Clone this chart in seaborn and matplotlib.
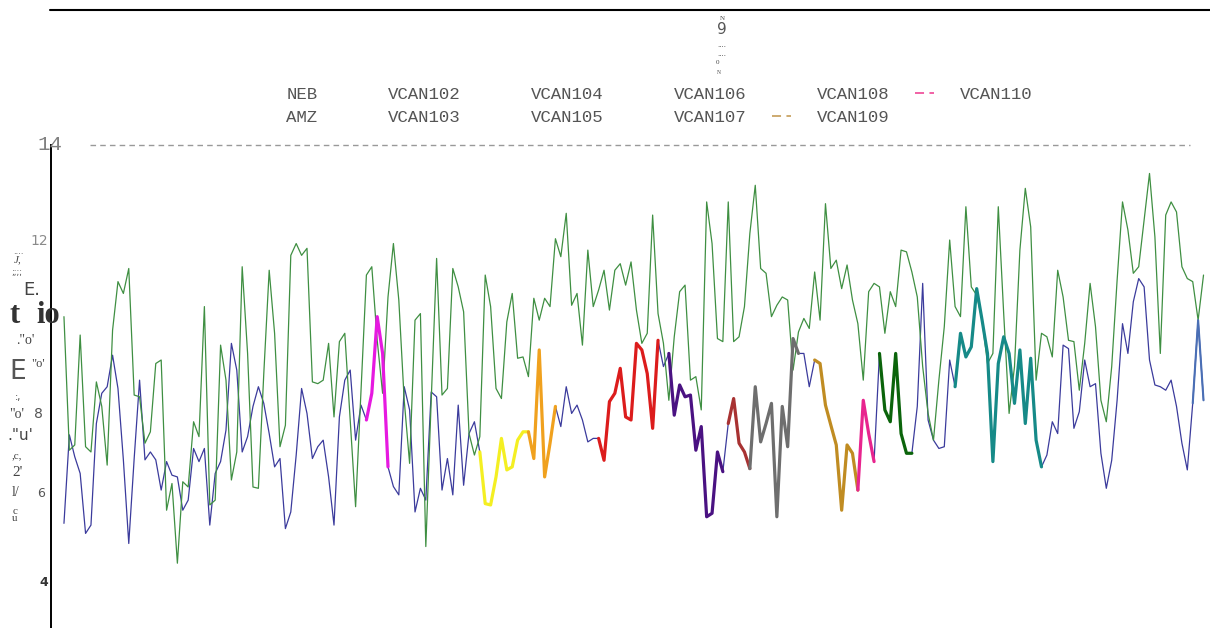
import matplotlib
matplotlib.use("Agg")
from matplotlib import pyplot as plt
from matplotlib.lines import Line2D
from matplotlib.font_manager import FontProperties
import seaborn as sns

# %%
# series (one value per month)
neb = [10.08, 7.03, 7.15, 9.66, 7.11, 6.99, 8.59, 8.03, 6.69, 9.77,
       10.88, 10.61, 11.18, 8.29, 8.25, 7.19, 7.45, 9.01, 9.09, 5.66,
       6.27, 4.45, 6.31, 6.19, 7.68, 7.34, 10.31, 5.78, 5.89, 9.43,
       8.63, 6.35, 6.99, 11.22, 9.24, 6.19, 6.16, 8.78, 11.14, 9.70,
       7.11, 7.60, 11.48, 11.75, 11.48, 11.64, 8.59, 8.55, 8.63, 9.47,
       7.79, 9.51, 9.70,
       7.72, 5.74, 8.40, 11.03, 11.22, 9.54, 8.33, 10.53, 11.75, 10.46,
       8.17, 6.73, 10.00, 10.15, 4.83, 8.17, 11.41, 8.29, 8.44, 11.18,
       10.76, 10.19, 7.41, 6.92, 7.34, 11.03, 10.31, 8.44, 8.21, 9.96,
       10.61, 9.13, 9.16, 8.71, 10.50, 10.00, 10.50, 10.31, 11.86, 11.45,
       12.44, 10.34, 10.61, 9.43, 11.60, 10.31, 10.69, 11.14, 10.23, 11.14,
       11.29, 10.80, 11.33, 10.23,
       9.47, 9.70, 12.40, 10.15, 9.47, 8.17, 9.62, 10.65, 10.80, 8.63,
       8.71, 7.95, 12.70, 11.75, 9.58, 9.51, 12.70, 9.51, 9.62, 10.31,
       11.98, 13.08, 11.18, 11.07, 10.08, 10.34, 10.53, 10.46, 8.86, 9.73,
       10.04, 9.81, 11.10, 10.00, 12.66, 11.18, 11.37, 10.72, 11.26, 10.46,
       9.92, 8.63, 10.65, 10.84, 10.76, 9.70, 10.65, 10.31, 11.60, 11.56,
       11.10, 10.53, 8.94, 7.87,
       7.26, 8.63, 9.85, 11.83, 10.31, 10.08, 12.59, 10.76, 10.57, 10.00,
       9.01, 9.24, 12.59, 10.15, 7.87, 8.94, 11.60, 13.01, 12.13, 8.63,
       9.70, 9.62, 9.16, 11.14, 10.53, 9.54, 9.51, 8.40, 9.47, 10.84,
       9.85, 8.17, 7.68, 8.94, 10.91, 12.70, 12.06, 11.07, 11.22, 12.28,
       13.35, 11.90, 9.24, 12.40, 12.70, 12.47, 11.22, 10.95, 10.88, 10.00,
       11.03]

amz = [5.36, 7.38, 6.88, 6.50, 5.13, 5.32, 7.64, 8.33, 8.48, 9.20,
       8.44, 6.81, 4.90, 6.84, 8.63, 6.81, 6.99, 6.81, 6.12, 6.77,
       6.46, 6.42, 5.66, 5.89, 7.07, 6.77, 7.07, 5.32, 6.50, 6.77,
       7.49, 9.47, 8.86, 6.99, 7.34, 8.03, 8.48, 8.10, 7.41, 6.65,
       6.84, 5.24, 5.62, 6.92, 8.44, 7.87, 6.84, 7.11, 7.26, 6.42,
       5.32, 7.79, 8.63,
       8.86, 7.26, 8.06, 7.72, 8.33, 10.08, 9.24, 6.65, 6.20, 6.01,
       8.48, 7.95, 5.62, 6.16, 5.89, 8.36, 8.25, 6.12, 6.84, 6.01,
       8.06, 6.23, 7.41, 7.68, 6.99, 5.81, 5.78, 6.42, 7.30, 6.58,
       6.65, 7.26, 7.45, 7.45, 6.84, 9.32, 6.42, 7.19, 8.03, 7.57,
       8.48, 7.87, 8.06, 7.72, 7.22, 7.30, 7.30, 6.80, 8.14, 8.33,
       8.90, 7.79, 7.72, 9.47,
       9.32, 8.78, 7.53, 9.54, 8.94, 9.24, 7.83, 8.52, 8.25, 8.29,
       7.03, 7.57, 5.51, 5.59, 6.99, 6.54, 7.64, 8.21, 7.19, 6.99,
       6.61, 8.48, 7.22, 7.64, 8.10, 5.51, 8.03, 7.11, 9.58, 9.24,
       9.24, 8.48, 9.09, 9.01, 8.06, 7.60, 7.15, 5.66, 7.15, 6.96,
       6.12, 8.17, 7.41, 6.77, 9.24, 7.95, 7.68, 9.24, 7.41, 6.96,
       6.96, 8.03, 10.84, 7.72,
       7.26, 7.07, 7.11, 9.09, 8.48, 9.70, 9.16, 9.39, 10.72, 10.00,
       9.24, 6.77, 9.01, 9.62, 9.24, 8.10, 9.32, 7.64, 9.13, 7.26,
       6.65, 6.92, 7.68, 7.41, 9.43, 9.35, 7.53, 7.91, 9.09, 8.48,
       8.55, 6.96, 6.16, 6.80, 8.17, 9.92, 9.24, 10.42, 10.95, 10.76,
       9.09, 8.52, 8.48, 8.40, 8.63, 8.03, 7.19, 6.58, 8.10, 10.00,
       8.17]

months = list(range(len(neb)))

# highlighted stretches on the AMZ curve (first and last month index)
seg_start = [56, 77, 86, 99, 112, 123, 127, 139, 147, 151, 165, 209]
seg_end = [60, 86, 91, 110, 122, 127, 136, 147, 150, 157, 181, 211]
seg_colors = ['#e619e0', '#f4ef22', '#f0a11e', '#dc1c1c', '#4a1282', '#a83232',
              '#6e6e6e', '#c08c22', '#e8248e', '#0b640b', '#168a88', '#4a6fb5']
seg_widths = [2.3] * 11 + [1.5]

legend_labels = ['NEB', 'AMZ', 'VCAN102', 'VCAN103', 'VCAN104', 'VCAN105',
                 'VCAN106', 'VCAN107', 'VCAN108', 'VCAN109', 'VCAN110']
legend_colors = ['none'] * 9 + ['#c9a464', '#f0559e']

# %%
sns.set_style('white')
plt.rcParams['font.family'] = ['DejaVu Sans']

W, H = 1210, 628
fig = plt.figure(figsize=(W / 100, H / 100), dpi=100)
ax = fig.add_axes([51 / W, 0, 1 - 51 / W, 1 - 145 / H])

sns.lineplot(x=months, y=amz, ax=ax, color='#3b3b9c', lw=0.9)
sns.lineplot(x=months, y=neb, ax=ax, color='#3f8f42', lw=0.9)
for s, e, c, w in zip(seg_start, seg_end, seg_colors, seg_widths):
    sns.lineplot(x=months[s:e + 1], y=amz[s:e + 1], ax=ax, color=c, lw=w)

ax.set_xlim(-2.4, 212.2)
ax.set_ylim(2.97, 14)
ax.set_xticks([])
ax.set_yticks([])
ax.set_xlabel('')
ax.set_ylabel('')
sns.despine(ax=ax, top=True, right=True, bottom=True, left=False)
ax.spines['left'].set_color('black')
ax.spines['left'].set_linewidth(1.4)

ax.hlines(14, 4.8, 208.5, colors='#999999', linestyles=(0, (4, 3)), lw=1, clip_on=False)

# tick labels as they appear on the scan
yt = ax.get_yaxis_transform()
ax.text(-0.001, 14, '14', transform=yt, ha='center', va='center', fontsize=15,
        family='Liberation Mono', color='#808080')
ax.text(-0.0104, 11.8, '12', transform=yt, ha='center', va='center', fontsize=10, color='#8a8a8a')
ax.text(-0.0086, 6.05, '6', transform=yt, ha='center', va='center', fontsize=9, color='#555555')
ax.text(-0.006, 4.0, '4', transform=yt, ha='center', va='center', fontsize=9,
        fontweight='bold', color='#333333')


def ftxt(x, y, s, **kw):
    kw.setdefault('color', '#444444')
    fig.text(x / W, 1 - y / H, s, ha='center', va='center', **kw)


# scrambled axis title
ftxt(18, 252, '....', fontsize=6)
ftxt(18, 260, 'J,', fontsize=8, style='italic', family='Liberation Serif')
ftxt(17, 272, ';;;;', fontsize=6)
ftxt(32, 290, 'E.', fontsize=13)
ftxt(15, 315, 't', fontsize=22, fontweight='bold', family='Liberation Serif', color='#333333')
ftxt(48, 315, 'io', fontsize=22, fontweight='bold', family='Liberation Serif', color='#333333')
ftxt(25, 340, '."o\'', fontsize=10, family='Liberation Serif')
ftxt(18, 372, 'E', fontsize=19, color='#555555')
ftxt(38, 364, '"o\'', fontsize=9, family='Liberation Serif')
ftxt(18, 397, ':,', fontsize=7)
ftxt(17, 415, '"o\'', fontsize=10, family='Liberation Serif')
ftxt(38, 414, '8', fontsize=10, color='#555555')
ftxt(20, 435, '."u\'', fontsize=11)
ftxt(17, 456, ',c,', fontsize=8, family='Liberation Serif')
ftxt(18, 472, "2'", fontsize=11, family='Liberation Serif')
ftxt(16, 492, 'l/', fontsize=10, family='Liberation Serif')
ftxt(15, 515, 'c\nu', fontsize=8, family='Liberation Serif', linespacing=0.6)

# scrambled title
ftxt(722, 18, 'N', fontsize=5, family='Liberation Serif')
ftxt(722, 30, '9', fontsize=11, color='#555555')
ftxt(722, 45, '....', fontsize=5)
ftxt(722, 54, '....', fontsize=5)
ftxt(717, 63, '0', fontsize=5, family='Liberation Serif')
ftxt(719, 73, 'N', fontsize=4, family='Liberation Serif')

fig.add_artist(Line2D([50 / W, 1], [1 - 10 / H, 1 - 10 / H], color='black', lw=1.5))

handles = [Line2D([], [], color=c, lw=1.3, linestyle=(0, (5, 3))) for c in legend_colors]
fig.legend(handles, legend_labels, ncol=6, loc='upper left',
           bbox_to_anchor=(242 / W, 1 - 87 / H), frameon=False,
           prop=FontProperties(family='Liberation Mono', size=12.5),
           handlelength=1.1, handletextpad=1.45, columnspacing=1.5,
           labelspacing=0.42, borderpad=0, borderaxespad=0, labelcolor='#555555')

fig.savefig('out.png', dpi=100)
